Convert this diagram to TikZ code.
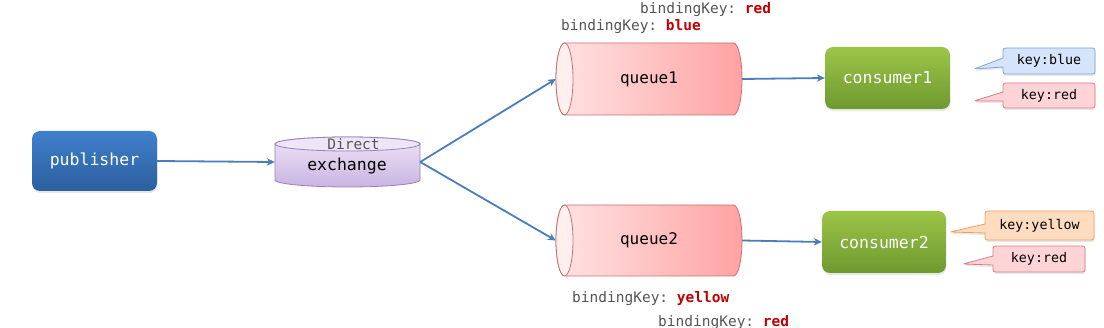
\documentclass[tikz,border=0pt]{standalone}
\usepackage{fontspec}
\setmonofont{DejaVu Sans Mono}
\usetikzlibrary{arrows.meta,shapes.callouts,shadows}
\definecolor{pubtop}{HTML}{3F80CC}
\definecolor{pubbot}{HTML}{2C5F9E}
\definecolor{contop}{HTML}{9CC548}
\definecolor{conbot}{HTML}{6E992F}
\definecolor{extop}{HTML}{EEE5F7}
\definecolor{exbot}{HTML}{C9B4E2}
\definecolor{exline}{HTML}{9A80BE}
\definecolor{qleft}{HTML}{FFE4E4}
\definecolor{qright}{HTML}{FFA2A2}
\definecolor{qend}{HTML}{FFEFEF}
\definecolor{qline}{HTML}{CF6E6E}
\definecolor{arrowblue}{HTML}{4A7EBB}
\definecolor{keyblue}{HTML}{D5E3FB}
\definecolor{keybluel}{HTML}{7FA3DA}
\definecolor{keyred}{HTML}{FFD4D6}
\definecolor{keyredl}{HTML}{DD7A80}
\definecolor{keyyel}{HTML}{FFDCBF}
\definecolor{keyyell}{HTML}{EE9E5C}
\definecolor{bkgray}{HTML}{555555}
\definecolor{bkred}{HTML}{C00000}
\tikzset{
  softshadow/.style={drop shadow={shadow xshift=0.5pt, shadow yshift=-2pt, opacity=0.18}},
  pubbox/.style={rounded corners=8pt, minimum width=125pt, minimum height=60pt,
    top color=pubtop, bottom color=pubbot, text=white, softshadow,
    font=\fontsize{16.5}{18}\selectfont\ttfamily},
  conbox/.style={rounded corners=8pt, minimum height=62pt,
    top color=contop, bottom color=conbot, text=white, softshadow,
    font=\fontsize{16.5}{18}\selectfont\ttfamily},
  keybox/.style={rectangle callout, rounded corners=2.5pt, callout pointer width=9pt,
    inner sep=0pt, line width=0.8pt, font=\fontsize{13.3}{15}\selectfont\ttfamily, softshadow},
  flow/.style={draw=arrowblue, line width=1.8pt, -{Stealth[length=8pt,width=7.5pt]}},
  bindtxt/.style={anchor=base west, inner sep=0pt, text=bkgray,
    font=\fontsize{14.5}{16}\selectfont\ttfamily},
  qtext/.style={inner sep=0pt, font=\fontsize{16}{18}\selectfont\ttfamily},
}
\begin{document}
\begin{tikzpicture}[x=1pt,y=1pt]
\useasboundingbox (0,0) rectangle (1104,327);

% publisher
\node[pubbox] (pub) at (94.5,166) {publisher};

% exchange cylinder (vertical)
\shade[top color=extop, bottom color=exbot, draw=exline, line width=0.8pt]
  (275,183) -- (275,147) arc[start angle=180, end angle=360, x radius=72.5, y radius=7]
  -- (420,183) arc[start angle=0, end angle=180, x radius=72.5, y radius=7] -- cycle;
\draw[exline, line width=0.8pt, fill=extop] (347.5,183) ellipse[x radius=72.5, y radius=7];
\node[inner sep=0pt, minimum width=145pt, minimum height=50pt] (ex) at (347.5,165) {};
\node[qtext, text=bkgray, font=\fontsize{14.5}{16}\selectfont\ttfamily] (exd) at (353.5,183) {Direct};
\node[qtext, font=\fontsize{16.5}{18}\selectfont\ttfamily] (ext) at (347,161) {exchange};

% queue1 cylinder (horizontal)
\shade[left color=qleft, right color=qright, draw=qline, line width=0.8pt]
  (564.5,284) -- (733.5,284) arc[start angle=90, end angle=-90, x radius=8.5, y radius=36]
  -- (564.5,212) arc[start angle=270, end angle=90, x radius=8.5, y radius=36] -- cycle;
\draw[qline, line width=0.8pt, fill=qend] (564.5,248) ellipse[x radius=8.5, y radius=36];
\node[qtext, minimum width=186pt, minimum height=72pt] (q1) at (649,248) {queue1};

% queue2 cylinder
\shade[left color=qleft, right color=qright, draw=qline, line width=0.8pt]
  (564.5,122) -- (733.5,122) arc[start angle=90, end angle=-90, x radius=8.5, y radius=35.5]
  -- (564.5,51) arc[start angle=270, end angle=90, x radius=8.5, y radius=35.5] -- cycle;
\draw[qline, line width=0.8pt, fill=qend] (564.5,86.5) ellipse[x radius=8.5, y radius=35.5];
\node[qtext, minimum width=186pt, minimum height=71pt] (q2) at (649,86.5) {queue2};

% consumers
\node[conbox, minimum width=125pt] (c1) at (887.5,249) {consumer1};
\node[conbox, minimum width=124pt] (c2) at (884,85) {consumer2};

% connectors
\draw[flow] (pub.east) -- (ex.west);
\draw[flow] (ex.east) -- (q1.west);
\draw[flow] (ex.east) -- (q2.west);
\draw[flow] (q1.east) -- (c1.west);
\draw[flow] (q2.east) -- (c2.west);

% callouts
\node[keybox, fill=keyblue, draw=keybluel, minimum width=92pt, minimum height=26pt,
  callout absolute pointer={(974,258)}] (kb1) at (1049,266) {key:blue};
\node[keybox, fill=keyred, draw=keyredl, minimum width=92pt, minimum height=25pt,
  callout absolute pointer={(974,226)}] (kr1) at (1049,231.5) {key:red};
\node[keybox, fill=keyyel, draw=keyyell, minimum width=109pt, minimum height=29pt,
  callout absolute pointer={(950,95)}] (ky2) at (1039.5,101.5) {key:yellow};
\node[keybox, fill=keyred, draw=keyredl, minimum width=92pt, minimum height=26pt,
  callout absolute pointer={(963,63)}] (kr2) at (1039,68) {key:red};

% binding keys
\node[bindtxt] (bk1) at (640,313) {bindingKey: \textcolor{bkred}{\bfseries red}};
\node[bindtxt] (bk2) at (561,296) {bindingKey: \textcolor{bkred}{\bfseries blue}};
\node[bindtxt] (bk3) at (572,24) {bindingKey: \textcolor{bkred}{\bfseries yellow}};
\node[bindtxt] (bk4) at (658,1) {bindingKey: \textcolor{bkred}{\bfseries red}};
\end{tikzpicture}
\end{document}
